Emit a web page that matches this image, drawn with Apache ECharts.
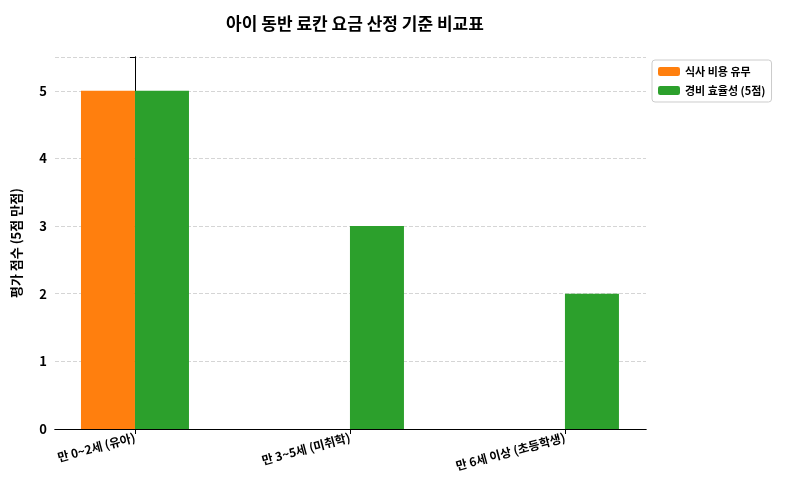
<!DOCTYPE html>
<html>
<head>
<meta charset="utf-8">
<script src="https://cdn.jsdelivr.net/npm/echarts@6/dist/echarts.min.js"></script>
<style>html,body{margin:0;background:#fff}#chart{width:800px;height:500px}</style>
</head>
<body>
<div id="chart"></div>
<script>
var categories = ['만 0~2세 (유아)', '만 3~5세 (미취학)', '만 6세 이상 (초등학생)'];
var mealCost = [5, 0, 0];
var costEfficiency = [5, 3, 2];
var yTicks = [0, 1, 2, 3, 4, 5];

var font = '"Noto Sans CJK KR", "Noto Sans", sans-serif';
var positions = categories.map(function (c, i) { return i; });
function pairs(vals) { return vals.map(function (v, i) { return [i, v]; }); }

var myChart = echarts.init(document.getElementById('chart'));
myChart.setOption({
    textStyle: {fontFamily: font},
    title: {
        text: '아이 동반 료칸 요금 산정 기준 비교표',
        left: 350, top: 10, textAlign: 'center',
        textStyle: {fontSize: 17, fontWeight: 'bold', color: '#000', fontFamily: font}
    },
    legend: {
        orient: 'vertical', left: 652, top: 60,
        itemWidth: 22, itemHeight: 9, itemGap: 8,
        padding: [6, 6, 6, 6],
        borderColor: '#ccc', borderWidth: 1, borderRadius: 3,
        textStyle: {fontSize: 11, fontWeight: 'bold', color: '#000', fontFamily: font},
        data: ['식사 비용 유무', '경비 효율성 (5점)']
    },
    grid: {left: 55, right: 154, top: 57, bottom: 71},
    xAxis: [{
        type: 'value', min: -0.372, max: 2.377,
        splitLine: {show: false},
        axisLine: {lineStyle: {color: '#000'}},
        axisTick: {show: true, customValues: positions, lineStyle: {color: '#000'}},
        axisLabel: {customValues: positions, rotate: 15, fontSize: 12, fontWeight: 'bold', color: '#000', margin: 8,
            formatter: function (v) { return categories[Math.round(v)]; }}
    }, {
        type: 'value', position: 'top', min: -0.372, max: 2.377,
        axisLine: {show: true, lineStyle: {color: '#000'}},
        axisTick: {show: false}, axisLabel: {show: false}, splitLine: {show: false}
    }],
    yAxis: [{
        type: 'value', min: 0, max: 5.5, interval: 1,
        name: '평가 점수 (5점 만점)', nameLocation: 'middle', nameGap: 32,
        nameTextStyle: {fontSize: 13, fontWeight: 'bold', color: '#000'},
        axisLine: {show: true, lineStyle: {color: '#000'}},
        axisTick: {show: true, lineStyle: {color: '#000'}},
        axisLabel: {fontSize: 13, fontWeight: 'bold', color: '#000',
            formatter: function (v) { return yTicks.indexOf(v) >= 0 ? v : ''; }},
        splitLine: {lineStyle: {type: 'dashed', color: '#d5d5d5'}}
    }, {
        type: 'value', position: 'right', min: 0, max: 5.5,
        axisLine: {show: true, lineStyle: {color: '#000'}},
        axisTick: {show: false}, axisLabel: {show: false}, splitLine: {show: false}
    }],
    series: [
        {name: '식사 비용 유무', type: 'bar', data: pairs(mealCost), barWidth: 54, barGap: '0%',
         itemStyle: {color: '#ff7f0e'}},
        {name: '경비 효율성 (5점)', type: 'bar', data: pairs(costEfficiency), barWidth: 54,
         itemStyle: {color: '#2ca02c'}}
    ]
});
</script>
</body>
</html>
